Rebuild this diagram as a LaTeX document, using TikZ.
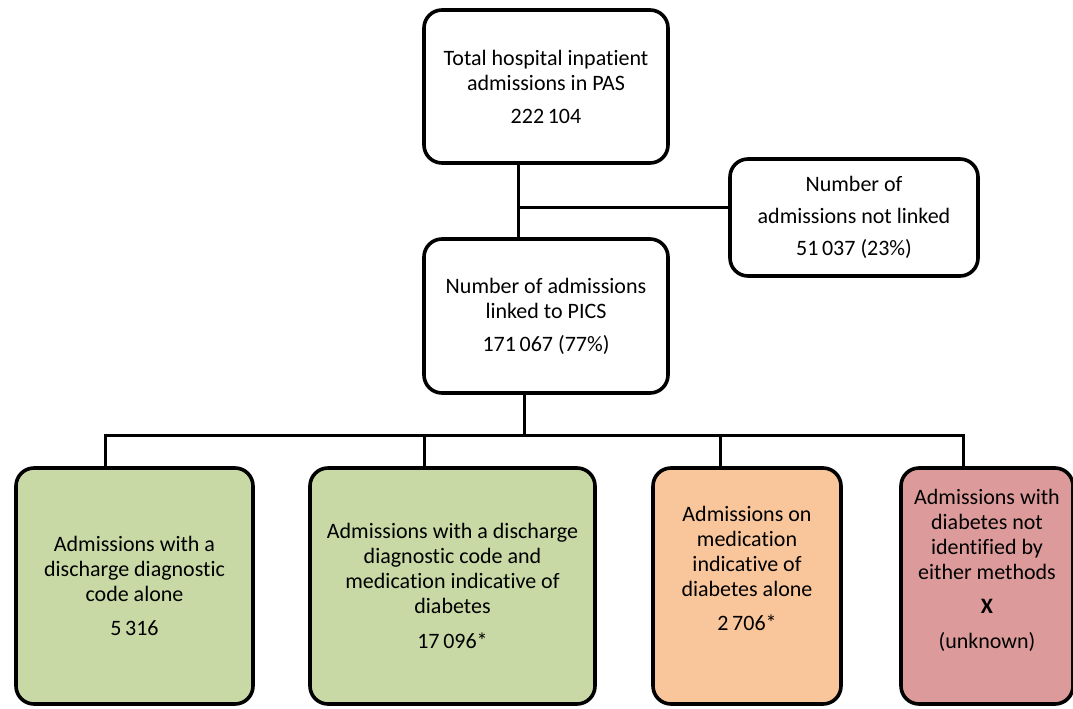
\documentclass[tikz,border=0pt]{standalone}
\usepackage{fontspec}
\setmainfont{Carlito}[Ligatures=NoCommon]
\usepackage{tikz}
\usetikzlibrary{calc}
\usepackage{xcolor}
\definecolor{boxgreen}{HTML}{C9D9A5}
\definecolor{boxorange}{HTML}{F9C59B}
\definecolor{boxred}{HTML}{DC9B9A}

\begin{document}
\begin{tikzpicture}[x=1pt,y=-1pt,
  box/.style={draw,line width=3.6pt,rounded corners=18pt,align=center,inner sep=0pt,
    font=\fontsize{22}{25}\selectfont},
  link/.style={draw,line width=3pt}]
\useasboundingbox (0,0) rectangle (1073,709);
\node[box,minimum width=244pt,minimum height=153pt] (total) at (546,86.5)
  {Total hospital inpatient\\admissions in PAS\\[8pt]222\,104};
\node[box,minimum width=248pt,minimum height=117pt,
  font=\fontsize{22}{32}\selectfont] (notlinked) at (854,217.5)
  {Number of\\admissions not linked\\51\,037 (23\%)};
\node[box,minimum width=244pt,minimum height=154pt] (linked) at (546,316)
  {Number of admissions\\linked to PICS\\[8pt]171\,067 (77\%)};
% bottom row
\node[box,fill=boxgreen,minimum width=237pt,minimum height=236pt] (diag) at (134.5,586)
  {Admissions with a\\discharge diagnostic\\code alone\\[9pt]5\,316};
\node[box,fill=boxgreen,minimum width=285pt,minimum height=236pt] (both) at (452.5,586)
  {Admissions with a discharge\\diagnostic code and\\medication indicative of\\diabetes\\[10pt]17\,096*};
\node[box,fill=boxorange,minimum width=188pt,minimum height=236pt,text depth=35pt] (med) at (747,586)
  {Admissions on\\medication\\indicative of\\diabetes alone\\[9pt]2\,706*};
\node[box,fill=boxred,minimum width=172pt,minimum height=236pt,text depth=35pt] (none) at (987,586)
  {Admissions with\\diabetes not\\identified by\\either methods\\[9pt]\textbf{X}\\[10pt](unknown)};
% connectors
\coordinate (split) at (518,207);
\draw[link] (total.south -| split) -- (linked.north -| split);
\draw[link] (split) -- (split -| notlinked.west);
\coordinate (bus) at (524,435);
\draw[link] (linked.south -| bus) -- (bus);
\coordinate (tdiag) at (105,435);
\coordinate (tboth) at (424,435);
\coordinate (tmed) at (720,435);
\coordinate (tnone) at (963,435);
\draw[link] (diag.north -| tdiag) -- (tdiag) -- (tnone) -- (none.north -| tnone);
\foreach \n in {both,med}
  \draw[link] (t\n) -- (\n.north -| t\n);
\end{tikzpicture}
\end{document}
